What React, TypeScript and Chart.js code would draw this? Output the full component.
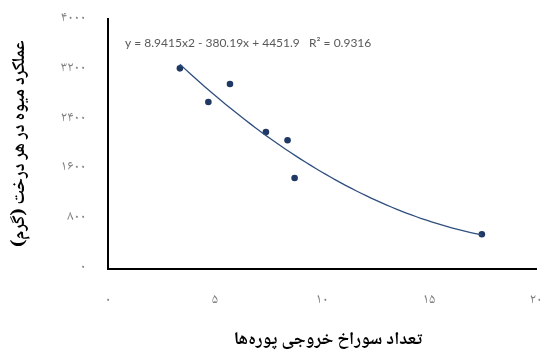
import React, { useEffect, useRef } from "react";
import { Chart, registerables } from "chart.js";

Chart.register(...registerables);

// Data
const holeCounts = [3.36, 4.69, 5.7, 7.38, 8.39, 8.72, 17.47];
const fruitYield = [3209, 2669, 2958, 2188, 2055, 1451, 548];

// Polynomial (order 2) trendline coefficients shown on the chart
const trendA = 8.9415;
const trendB = -380.19;
const trendC = 4451.9;
const rSquared = 0.9316;
const equationLabel = "y = 8.9415x2 - 380.19x + 4451.9   R\u00B2 = 0.9316";

const xTitle = "تعداد سوراخ خروجی پوره‌ها";
const yTitle = "عملکرد میوه در هر درخت (گرم)";

const xMin = 0, xMax = 20, xStep = 5;
const yMin = 0, yMax = 4000, yStep = 800;

const persianDigits = "۰۱۲۳۴۵۶۷۸۹";
const toPersian = (v: number | string) =>
  String(v).replace(/\d/g, (d) => persianDigits[Number(d)]);

const arabicFont = "'Noto Naskh Arabic', 'Noto Sans Arabic', 'DejaVu Sans', serif";

function trendPoints() {
  const lo = Math.min(...holeCounts);
  const hi = Math.max(...holeCounts);
  const pts: { x: number; y: number }[] = [];
  const n = 60;
  for (let i = 0; i <= n; i++) {
    const x = lo + ((hi - lo) * i) / n;
    pts.push({ x, y: trendA * x * x + trendB * x + trendC });
  }
  return pts;
}

const equationPlugin = {
  id: "equationText",
  afterDraw(chart: any) {
    const ctx = chart.ctx;
    ctx.save();
    ctx.font = "12px Lato, 'Liberation Sans', sans-serif";
    ctx.fillStyle = "#595959";
    ctx.textAlign = "left";
    ctx.textBaseline = "middle";
    ctx.fillText(equationLabel, 125, 43);
    ctx.restore();
  },
};

export default function App() {
  const ref = useRef<HTMLCanvasElement | null>(null);
  useEffect(() => {
    if (!ref.current) return;
    const chart = new Chart(ref.current, {
      type: "scatter",
      data: {
        datasets: [
          {
            label: "trend",
            data: trendPoints(),
            showLine: true,
            borderColor: "#2F4F7F",
            borderWidth: 1.3,
            pointRadius: 0,
            fill: false,
          } as any,
          {
            label: "yield",
            data: holeCounts.map((x, i) => ({ x, y: fruitYield[i] })),
            backgroundColor: "#1F3864",
            borderColor: "#1F3864",
            pointRadius: 3.3,
            pointBorderWidth: 0,
          },
        ],
      },
      options: {
        animation: false,
        responsive: false,
        maintainAspectRatio: false,
        layout: { padding: { top: 19, right: 2.5, left: 0, bottom: 0 } },
        plugins: {
          legend: { display: false },
          tooltip: { enabled: false },
        },
        scales: {
          x: {
            type: "linear",
            min: xMin,
            max: xMax,
            ticks: {
              stepSize: xStep,
              padding: 24,
              color: "#7f7f7f",
              font: { family: arabicFont, size: 14 },
              callback: (v: any) => toPersian(v),
            },
            grid: { display: false, drawTicks: false },
            border: { display: true, color: "#000", width: 2 },
            title: {
              display: true,
              text: xTitle + "\u00A0\u00A0\u00A0\u200F",
              color: "#000",
              font: { family: arabicFont, size: 18, weight: "bold" },
              padding: { top: 0, bottom: 1 },
            },
            afterFit: (s: any) => {
              s.height = 354 - 268.5;
              s.paddingLeft = 0;
              s.paddingRight = 0;
            },
          },
          y: {
            type: "linear",
            min: yMin,
            max: yMax,
            ticks: {
              stepSize: yStep,
              padding: 22,
              color: "#7f7f7f",
              font: { family: arabicFont, size: 14 },
              callback: (v: any) => toPersian(v),
            },
            grid: { display: false, drawTicks: false },
            border: { display: true, color: "#000", width: 2 },
            title: {
              display: true,
              text: yTitle + "\u200F",
              color: "#000",
              font: { family: arabicFont, size: 18, weight: "bold" },
              padding: { top: 11, bottom: 0 },
            },
            afterFit: (s: any) => {
              s.width = 108;
              s.paddingTop = 0;
              s.paddingBottom = 0;
            },
          },
        },
      },
      plugins: [equationPlugin],
    });
    return () => chart.destroy();
  }, []);

  return (
    <div style={{ position: "fixed", left: 0, top: 0, width: 540, height: 354, background: "#fff" }}>
      <canvas ref={ref} width={540} height={354} style={{ width: 540, height: 354, display: "block" }} />
    </div>
  );
}
